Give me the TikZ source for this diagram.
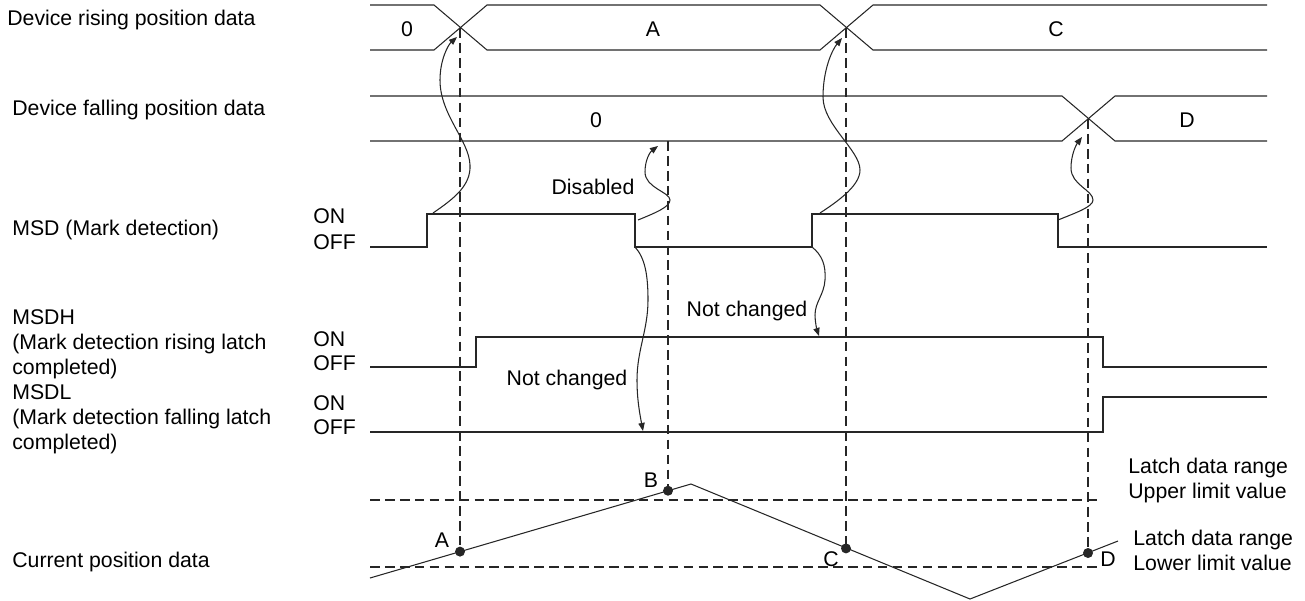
\documentclass[tikz,border=0pt]{standalone}
\usepackage{fontspec}
\setmainfont{Liberation Sans}
\usetikzlibrary{arrows.meta}
\definecolor{wire}{HTML}{262626}

\begin{document}
\begin{tikzpicture}[x=0.02cm,y=-0.02cm,
    sig/.style={wire,line width=0.6pt},
    guide/.style={wire,line width=0.6pt,dash pattern=on 5.5pt off 3pt},
    cause/.style={wire,line width=0.6pt,-{Triangle[length=4.6pt,width=3.6pt]}},
    txt/.style={inner sep=0pt,font=\fontsize{12.1}{14.2}\selectfont,align=left}]
    \useasboundingbox (0,0) rectangle (1305,600);
    % row labels
    \node[txt,anchor=base west] (lrise) at (7,25) {Device rising position data};
    \node[txt,anchor=base west] (lfall) at (12,115) {Device falling position data};
    \node[txt,anchor=base west] (lmsd) at (12,235) {MSD (Mark detection)};
    \node[txt,anchor=base west] (lmsdh) at (12,374) {MSDH\\(Mark detection rising latch\\completed)};
    \node[txt,anchor=base west] (lmsdl) at (12,449) {MSDL\\(Mark detection falling latch\\completed)};
    \node[txt,anchor=base west] (lpos) at (12,567) {Current position data};
    \foreach \yon/\yoff [count=\i] in {223/249,346/370,410/434} {
        \node[txt,anchor=base west] (on\i) at (313,\yon) {ON};
        \node[txt,anchor=base west] (off\i) at (313,\yoff) {OFF};
    }
    % position data buses
    \draw[sig] (370,5) -- (434,5) -- (487,50) -- (820,50) -- (873,5) -- (1267,5);
    \draw[sig] (370,50) -- (434,50) -- (487,5) -- (820,5) -- (873,50) -- (1267,50);
    \draw[sig] (370,96) -- (1062,96) -- (1115,141) -- (1267,141);
    \draw[sig] (370,141) -- (1062,141) -- (1115,96) -- (1267,96);
    \node[txt,anchor=base] (r0) at (407,36) {0};
    \node[txt,anchor=base] (rA) at (653,36) {A};
    \node[txt,anchor=base] (rC) at (1056,36) {C};
    \node[txt,anchor=base] (f0) at (596,127) {0};
    \node[txt,anchor=base] (fD) at (1187,127) {D};
    % signals
    \draw[sig] (370,247) -- (427,247) -- (427,214) -- (635,214) -- (635,247) -- (812,247)
        -- (812,214) -- (1058,214) -- (1058,247) -- (1267,247);
    \draw[sig] (370,367) -- (476,367) -- (476,337) -- (1103,337) -- (1103,367) -- (1267,367);
    \draw[sig] (370,432) -- (1103,432) -- (1103,397) -- (1267,397);
    % current position
    \coordinate (pA) at (460,551.6);
    \coordinate (pB) at (668,490.7);
    \coordinate (pC) at (846,548.4);
    \coordinate (pD) at (1088,553);
    \draw[guide] (370,500) -- (1098,500);
    \draw[guide] (370,567) -- (1098,567);
    \draw[sig] (370,578) -- (691,484) -- (970,599) -- (1118,541);
    \draw[guide] (460,28) -- (pA);
    \draw[guide] (668,141) -- (pB);
    \draw[guide] (846,28) -- (pC);
    \draw[guide] (1088,119) -- (pD);
    \foreach \p in {pA,pB,pC,pD}
        \fill[wire] (\p) circle (5);
    \node[txt,anchor=base] (tA) at (442,547) {A};
    \node[txt,anchor=base] (tB) at (651,487) {B};
    \node[txt,anchor=base] (tC) at (831,566) {C};
    \node[txt,anchor=base] (tD) at (1108,566) {D};
    \node[txt,anchor=base west] (upper) at (1128,498) {Latch data range\\Upper limit value};
    \node[txt,anchor=base west] (lower) at (1133,570) {Latch data range\\Lower limit value};
    % cause arrows
    \coordinate (up1) at (433,213);
    \coordinate (x1) at (457,37);
    \coordinate (dn1) at (638,220);
    \coordinate (x2) at (658,146);
    \coordinate (up2) at (820,213);
    \coordinate (x3) at (842,38);
    \coordinate (dn2) at (1058,220);
    \coordinate (x4) at (1082,137);
    \coordinate (low1) at (635,247);
    \coordinate (h1) at (643,431);
    \coordinate (low2) at (812,247);
    \coordinate (h2) at (819,336);
    \draw[cause] (up1) .. controls (455,198) and (471,185) .. (470,165)
        .. controls (469,140) and (440,115) .. (440,80)
        .. controls (440,60) and (448,45) .. (x1);
    \draw[cause] (dn1) .. controls (655,213) and (670,207) .. (670,200)
        .. controls (670,192) and (645,188) .. (645,172)
        .. controls (645,160) and (650,152) .. (x2);
    \draw[cause] (up2) .. controls (840,200) and (860,185) .. (860,170)
        .. controls (860,150) and (823,125) .. (823,97)
        .. controls (823,70) and (832,50) .. (x3);
    \draw[cause] (dn2) .. controls (1075,213) and (1093,207) .. (1093,200)
        .. controls (1093,190) and (1071,185) .. (1071,168)
        .. controls (1071,155) and (1076,145) .. (x4);
    \draw[cause] (low1) .. controls (645,258) and (648,275) .. (648,300)
        .. controls (648,330) and (637,350) .. (637,380)
        .. controls (637,400) and (640,415) .. (h1);
    \draw[cause] (low2) .. controls (822,255) and (826,265) .. (825,280)
        .. controls (824,295) and (815,302) .. (815,315)
        .. controls (815,322) and (817,330) .. (h2);
    \node[txt,anchor=base] (dis) at (593,194) {Disabled};
    \node[txt,anchor=base] (nc1) at (567,385) {Not changed};
    \node[txt,anchor=base] (nc2) at (747,316) {Not changed};
\end{tikzpicture}
\end{document}
